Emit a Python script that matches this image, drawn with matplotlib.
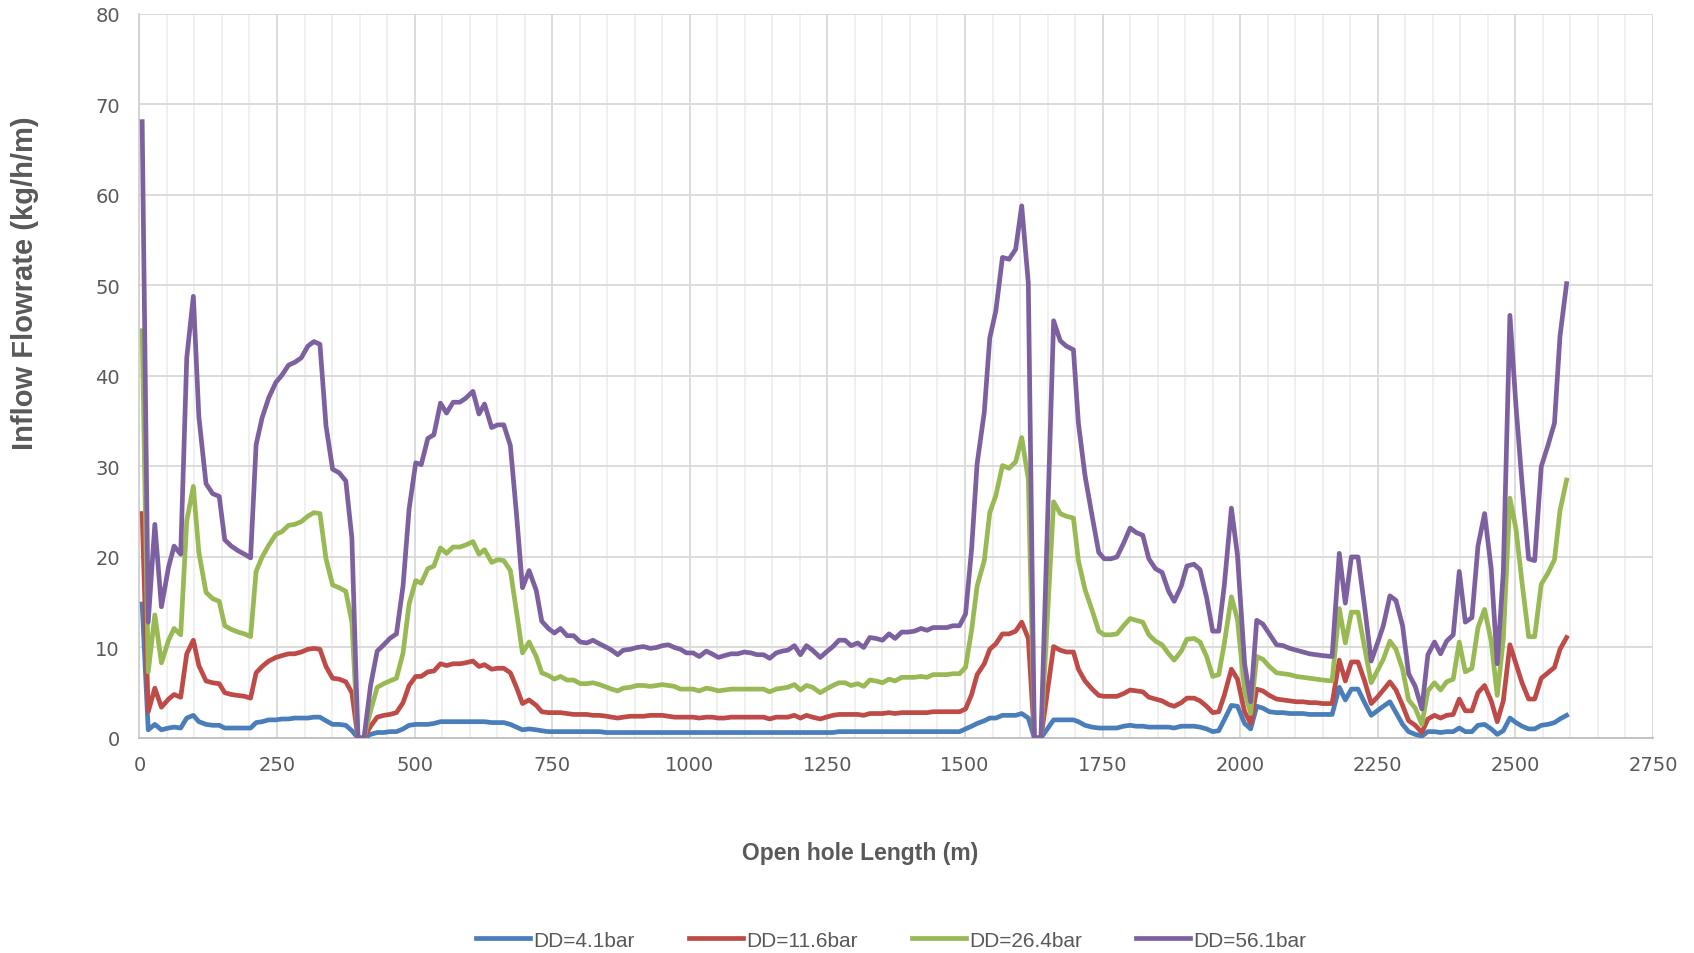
import matplotlib
matplotlib.use("Agg")
import matplotlib.pyplot as plt
from matplotlib import font_manager
from matplotlib.ticker import MultipleLocator

# open hole length (m), shared by all drawdown cases
length_m = [
    5, 16, 28, 40, 53, 63, 75, 86, 98, 108,
    121, 133, 145, 155, 167, 179, 191, 202, 212, 223,
    235, 248, 259, 271, 282, 294, 306, 317, 328, 339,
    351, 363, 375, 386, 397, 408, 420, 432, 444, 455,
    467, 479, 490, 502, 512, 524, 535, 547, 558, 570,
    582, 592, 606, 617, 627, 640, 651, 662, 674, 685,
    696, 708, 721, 731, 743, 754, 765, 777, 789, 801,
    813, 824, 836, 849, 858, 869, 879, 892, 904, 916,
    928, 940, 950, 961, 972, 983, 994, 1006, 1017, 1030,
    1040, 1052, 1063, 1075, 1087, 1099, 1111, 1122, 1134, 1145,
    1157, 1168, 1178, 1190, 1201, 1212, 1223, 1237, 1248, 1260,
    1271, 1282, 1293, 1305, 1316, 1327, 1338, 1350, 1362, 1373,
    1385, 1397, 1408, 1420, 1431, 1442, 1454, 1467, 1478, 1490,
    1501, 1512, 1522, 1535, 1545, 1556, 1568, 1580, 1592, 1603,
    1615, 1626, 1638, 1661, 1673, 1684, 1697, 1706, 1718, 1731,
    1743, 1753, 1765, 1776, 1788, 1800, 1811, 1823, 1834, 1846,
    1858, 1870, 1880, 1893, 1903, 1916, 1927, 1939, 1950, 1961,
    1971, 1984, 1995, 2008, 2019, 2030, 2041, 2053, 2066, 2078,
    2090, 2102, 2114, 2126, 2138, 2150, 2167, 2180, 2191, 2202,
    2214, 2226, 2238, 2249, 2260, 2272, 2283, 2295, 2306, 2318,
    2330, 2341, 2353, 2364, 2375, 2387, 2398, 2409, 2421, 2432,
    2444, 2456, 2467, 2478, 2490, 2501, 2512, 2524, 2535, 2547,
    2559, 2571, 2581, 2593,
]

# inflow (kg/h/m) for DD=4.1bar
dd_4_1 = [
    14.8, 0.9, 1.5, 0.9, 1.1, 1.2, 1.1, 2.2, 2.5, 1.8,
    1.5, 1.4, 1.4, 1.1, 1.1, 1.1, 1.1, 1.1, 1.7, 1.8,
    2.0, 2.0, 2.1, 2.1, 2.2, 2.2, 2.2, 2.3, 2.3, 1.9,
    1.5, 1.5, 1.4, 0.8, 0.0, 0.0, 0.4, 0.6, 0.6, 0.7,
    0.7, 1.0, 1.4, 1.5, 1.5, 1.5, 1.6, 1.8, 1.8, 1.8,
    1.8, 1.8, 1.8, 1.8, 1.8, 1.7, 1.7, 1.7, 1.5, 1.2,
    0.9, 1.0, 0.9, 0.8, 0.7, 0.7, 0.7, 0.7, 0.7, 0.7,
    0.7, 0.7, 0.7, 0.6, 0.6, 0.6, 0.6, 0.6, 0.6, 0.6,
    0.6, 0.6, 0.6, 0.6, 0.6, 0.6, 0.6, 0.6, 0.6, 0.6,
    0.6, 0.6, 0.6, 0.6, 0.6, 0.6, 0.6, 0.6, 0.6, 0.6,
    0.6, 0.6, 0.6, 0.6, 0.6, 0.6, 0.6, 0.6, 0.6, 0.6,
    0.7, 0.7, 0.7, 0.7, 0.7, 0.7, 0.7, 0.7, 0.7, 0.7,
    0.7, 0.7, 0.7, 0.7, 0.7, 0.7, 0.7, 0.7, 0.7, 0.7,
    1.0, 1.3, 1.6, 1.9, 2.2, 2.2, 2.5, 2.5, 2.5, 2.7,
    2.2, 0.0, 0.0, 2.0, 2.0, 2.0, 2.0, 1.8, 1.4, 1.2,
    1.1, 1.1, 1.1, 1.1, 1.3, 1.4, 1.3, 1.3, 1.2, 1.2,
    1.2, 1.2, 1.1, 1.3, 1.3, 1.3, 1.2, 1.0, 0.7, 0.8,
    2.0, 3.6, 3.5, 1.6, 1.0, 3.5, 3.3, 2.9, 2.8, 2.8,
    2.7, 2.7, 2.7, 2.6, 2.6, 2.6, 2.6, 5.6, 4.2, 5.4,
    5.4, 3.9, 2.5, 3.0, 3.5, 4.0, 2.8, 1.5, 0.7, 0.4,
    0.2, 0.7, 0.7, 0.6, 0.7, 0.7, 1.1, 0.7, 0.7, 1.4,
    1.5, 1.0, 0.4, 0.8, 2.2, 1.7, 1.3, 1.0, 1.0, 1.4,
    1.5, 1.7, 2.1, 2.5,
]

# inflow (kg/h/m) for DD=11.6bar
dd_11_6 = [
    24.8, 2.9, 5.5, 3.4, 4.3, 4.8, 4.5, 9.3, 10.8, 8.0,
    6.3, 6.1, 6.0, 5.0, 4.8, 4.7, 4.6, 4.4, 7.2, 7.9,
    8.5, 8.9, 9.1, 9.3, 9.3, 9.5, 9.8, 9.9, 9.8, 7.9,
    6.6, 6.5, 6.2, 5.0, 0.0, 0.0, 1.3, 2.3, 2.5, 2.6,
    2.8, 3.9, 5.8, 6.8, 6.8, 7.3, 7.4, 8.2, 8.0, 8.2,
    8.2, 8.3, 8.5, 7.9, 8.1, 7.6, 7.7, 7.7, 7.2, 5.6,
    3.8, 4.2, 3.6, 2.9, 2.8, 2.8, 2.8, 2.7, 2.6, 2.6,
    2.6, 2.5, 2.5, 2.4, 2.3, 2.2, 2.3, 2.4, 2.4, 2.4,
    2.5, 2.5, 2.5, 2.4, 2.3, 2.3, 2.3, 2.3, 2.2, 2.3,
    2.3, 2.2, 2.2, 2.3, 2.3, 2.3, 2.3, 2.3, 2.3, 2.1,
    2.3, 2.3, 2.3, 2.5, 2.2, 2.5, 2.3, 2.1, 2.3, 2.5,
    2.6, 2.6, 2.6, 2.6, 2.5, 2.7, 2.7, 2.7, 2.8, 2.7,
    2.8, 2.8, 2.8, 2.8, 2.8, 2.9, 2.9, 2.9, 2.9, 2.9,
    3.2, 4.8, 7.0, 8.2, 9.8, 10.4, 11.5, 11.5, 11.8, 12.8,
    11.0, 0.0, 0.0, 10.1, 9.7, 9.5, 9.5, 7.6, 6.3, 5.4,
    4.7, 4.6, 4.6, 4.6, 4.9, 5.3, 5.2, 5.1, 4.5, 4.3,
    4.1, 3.7, 3.5, 3.9, 4.4, 4.4, 4.1, 3.5, 2.8, 2.9,
    4.7, 7.6, 6.5, 2.9, 1.6, 5.4, 5.2, 4.7, 4.3, 4.2,
    4.1, 4.0, 4.0, 3.9, 3.9, 3.8, 3.8, 8.6, 6.3, 8.4,
    8.4, 6.3, 3.8, 4.5, 5.3, 6.2, 5.3, 3.6, 1.9, 1.4,
    0.6, 2.1, 2.5, 2.2, 2.5, 2.6, 4.3, 3.0, 3.0, 5.0,
    5.8, 4.1, 1.8, 4.1, 10.3, 8.2, 6.1, 4.3, 4.3, 6.6,
    7.2, 7.8, 9.8, 11.1,
]

# inflow (kg/h/m) for DD=26.4bar
dd_26_4 = [
    45.0, 7.3, 13.6, 8.3, 10.8, 12.1, 11.4, 24.0, 27.8, 20.5,
    16.1, 15.4, 15.1, 12.4, 12.0, 11.7, 11.5, 11.2, 18.4, 20.0,
    21.3, 22.5, 22.8, 23.5, 23.6, 23.9, 24.5, 24.9, 24.8, 19.8,
    16.9, 16.6, 16.2, 12.8, 0.0, 0.0, 3.0, 5.6, 6.0, 6.3,
    6.6, 9.4, 14.8, 17.4, 17.1, 18.7, 19.0, 21.0, 20.4, 21.1,
    21.1, 21.3, 21.7, 20.3, 20.8, 19.4, 19.7, 19.6, 18.5, 14.0,
    9.4, 10.6, 9.0, 7.2, 6.9, 6.5, 6.8, 6.4, 6.4, 6.0,
    6.0, 6.1, 5.9, 5.6, 5.4, 5.2, 5.5, 5.6, 5.8, 5.8,
    5.7, 5.8, 5.9, 5.8, 5.7, 5.4, 5.4, 5.4, 5.2, 5.5,
    5.4, 5.2, 5.3, 5.4, 5.4, 5.4, 5.4, 5.4, 5.4, 5.1,
    5.4, 5.5, 5.6, 5.9, 5.3, 5.8, 5.6, 5.0, 5.4, 5.8,
    6.1, 6.1, 5.8, 6.0, 5.7, 6.4, 6.3, 6.1, 6.5, 6.3,
    6.7, 6.7, 6.7, 6.8, 6.7, 7.0, 7.0, 7.0, 7.1, 7.1,
    7.8, 11.9, 16.8, 19.6, 24.9, 26.8, 30.1, 29.8, 30.5, 33.2,
    28.6, 0.0, 0.0, 26.1, 24.8, 24.5, 24.3, 19.6, 16.4, 14.1,
    11.8, 11.4, 11.4, 11.5, 12.4, 13.2, 13.0, 12.8, 11.4, 10.7,
    10.3, 9.3, 8.6, 9.6, 10.9, 11.0, 10.6, 9.0, 6.8, 7.0,
    10.4, 15.6, 13.1, 5.2, 2.7, 9.0, 8.7, 7.9, 7.2, 7.1,
    7.0, 6.8, 6.7, 6.6, 6.5, 6.4, 6.3, 14.3, 10.5, 13.9,
    13.9, 10.0, 6.1, 7.4, 8.7, 10.7, 9.8, 7.6, 4.2, 3.3,
    1.5, 5.2, 6.1, 5.3, 6.2, 6.5, 10.6, 7.3, 7.7, 12.2,
    14.2, 10.7, 4.7, 10.9, 26.5, 23.1, 17.2, 11.2, 11.2, 17.0,
    18.2, 19.7, 25.1, 28.5,
]

# inflow (kg/h/m) for DD=56.1bar
dd_56_1 = [
    68.1, 12.8, 23.6, 14.5, 18.9, 21.2, 20.3, 42.0, 48.8, 35.5,
    28.1, 27.0, 26.7, 21.9, 21.2, 20.7, 20.3, 19.9, 32.4, 35.4,
    37.6, 39.3, 40.1, 41.2, 41.5, 42.0, 43.3, 43.8, 43.5, 34.5,
    29.7, 29.3, 28.4, 22.1, 0.0, 0.0, 5.8, 9.6, 10.3, 11.0,
    11.5, 16.8, 25.3, 30.4, 30.2, 33.1, 33.5, 37.0, 35.9, 37.1,
    37.1, 37.5, 38.3, 35.8, 36.9, 34.3, 34.6, 34.6, 32.3, 24.8,
    16.6, 18.5, 16.3, 12.9, 12.1, 11.6, 12.1, 11.3, 11.3, 10.6,
    10.5, 10.8, 10.4, 10.0, 9.7, 9.2, 9.7, 9.8, 10.0, 10.1,
    9.9, 10.0, 10.2, 10.3, 10.0, 9.8, 9.4, 9.4, 9.0, 9.6,
    9.3, 8.9, 9.1, 9.3, 9.3, 9.5, 9.4, 9.2, 9.2, 8.8,
    9.4, 9.6, 9.7, 10.2, 9.2, 10.2, 9.7, 8.9, 9.5, 10.1,
    10.8, 10.8, 10.2, 10.5, 10.0, 11.1, 11.0, 10.8, 11.5, 11.0,
    11.7, 11.7, 11.8, 12.1, 11.9, 12.2, 12.2, 12.2, 12.4, 12.4,
    13.7, 20.9, 30.3, 36.0, 44.2, 47.2, 53.1, 52.9, 54.0, 58.8,
    50.3, 0.0, 0.0, 46.1, 43.9, 43.3, 42.9, 34.8, 29.0, 24.5,
    20.5, 19.8, 19.8, 20.0, 21.5, 23.2, 22.7, 22.4, 19.8, 18.7,
    18.3, 16.2, 15.1, 16.8, 19.0, 19.2, 18.6, 15.5, 11.8, 11.8,
    16.8, 25.4, 20.2, 8.2, 4.0, 13.0, 12.6, 11.5, 10.3, 10.2,
    9.9, 9.7, 9.5, 9.3, 9.2, 9.1, 9.0, 20.4, 14.9, 20.0,
    20.0, 14.5, 8.5, 10.4, 12.4, 15.7, 15.2, 12.4, 7.1, 5.7,
    3.2, 9.2, 10.6, 9.3, 10.7, 11.4, 18.4, 12.8, 13.3, 21.2,
    24.8, 18.7, 8.2, 18.3, 46.7, 36.7, 28.2, 19.8, 19.6, 30.0,
    32.3, 34.8, 44.4, 50.2,
]

labels = ["DD=4.1bar", "DD=11.6bar", "DD=26.4bar", "DD=56.1bar"]
colors = ["#4A7EBB", "#BE4B48", "#98B954", "#7D60A0"]

installed = {f.name for f in font_manager.fontManager.ttflist}
label_font = "Liberation Sans" if "Liberation Sans" in installed else "DejaVu Sans"
text_grey = "#595959"

fig = plt.figure(figsize=(16.94, 9.54), dpi=100)
ax = fig.add_axes([0.0823, 0.2254, 0.8935, 0.7589])

for series, name, col in zip([dd_4_1, dd_11_6, dd_26_4, dd_56_1], labels, colors):
    ax.plot(length_m, series, color=col, lw=3.4, label=name,
            solid_joinstyle="round", zorder=3)

ax.set_xlim(0, 2750)
ax.set_ylim(0, 80)
ax.xaxis.set_major_locator(MultipleLocator(250))
ax.xaxis.set_minor_locator(MultipleLocator(50))
ax.yaxis.set_major_locator(MultipleLocator(10))

ax.grid(which="major", color="#D9D9D9", lw=1.3, zorder=0)
ax.grid(which="minor", axis="x", color="#EEEEEE", lw=1.2, zorder=0)
for side in ["top", "right"]:
    ax.spines[side].set_visible(False)
ax.spines["left"].set_color("#D0D0D0")
ax.spines["bottom"].set_color("#BFBFBF")
ax.spines["left"].set_linewidth(1.3)
ax.spines["bottom"].set_linewidth(1.3)

ax.tick_params(which="both", length=0)
ax.tick_params(axis="x", pad=12, labelsize=14, labelcolor=text_grey)
ax.tick_params(axis="y", pad=14, labelsize=14, labelcolor=text_grey)

fig.text(0.5077, 0.1053, "Open hole Length (m)", ha="center", va="center",
         fontsize=16.5, fontweight="bold", color=text_grey, family=label_font)
fig.text(0.015, 0.703, "Inflow Flowrate (kg/h/m)", ha="center", va="center",
         rotation=90, fontsize=21, fontweight="bold", color=text_grey,
         family=label_font)

leg = fig.legend(loc="center", bbox_to_anchor=(0.526, 0.0135), ncol=4,
                 frameon=False, handlelength=2.6, handletextpad=0.15,
                 columnspacing=2.6, prop={"family": label_font, "size": 15})
for t in leg.get_texts():
    t.set_color(text_grey)

fig.savefig("out.png", dpi=100)
